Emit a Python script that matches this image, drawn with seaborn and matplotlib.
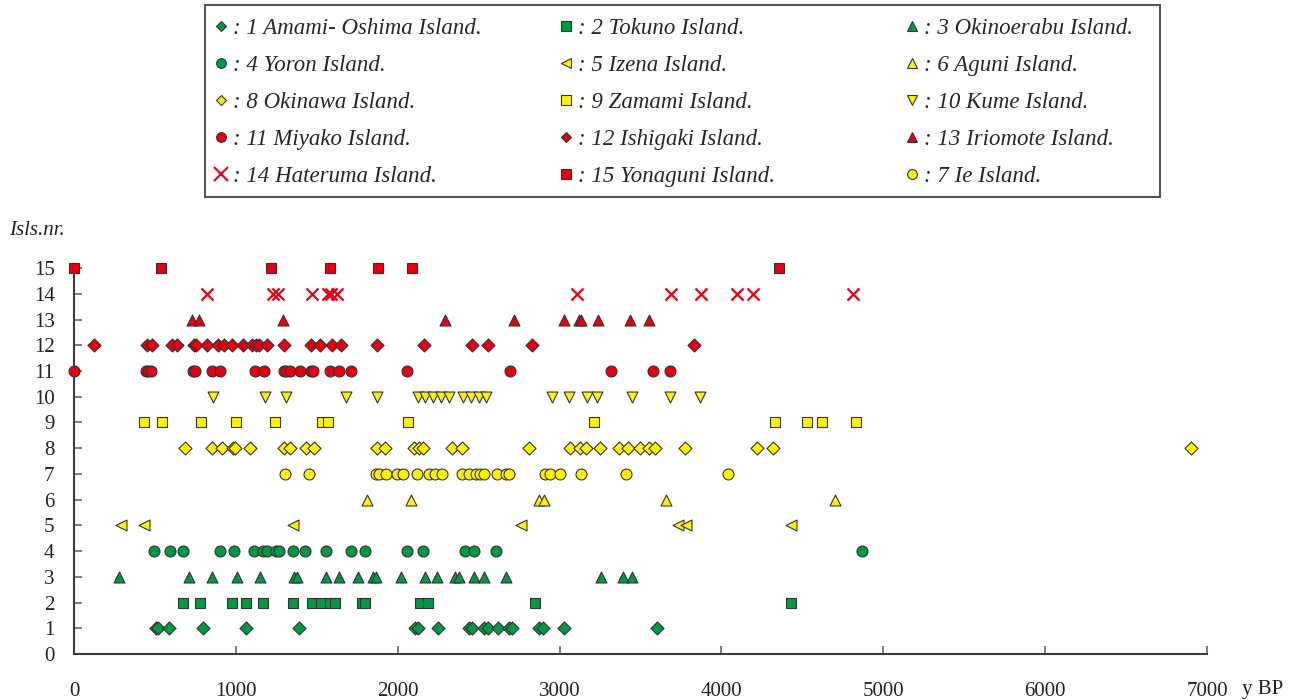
import matplotlib
matplotlib.use("Agg")
import matplotlib.pyplot as plt
import seaborn as sns
import pandas as pd
from matplotlib.lines import Line2D
from matplotlib.patches import Rectangle

# dated sites (y BP) per island
amami = [505, 520, 585, 795, 1060, 1390, 2105, 2125, 2250, 2440, 2460, 2535, 2555,
         2620, 2690, 2705, 2870, 2895, 3030, 3600]
tokuno = [675, 780, 975, 1065, 1165, 1350, 1470, 1525, 1580, 1610, 1780, 1795, 2140,
          2190, 2850, 4430]
okinoerabu = [280, 710, 850, 1010, 1150, 1360, 1380, 1555, 1640, 1755, 1850, 1865, 2020,
              2170, 2245, 2355, 2380, 2470, 2535, 2670, 3255, 3390, 3450]
yoron = [495, 595, 675, 900, 990, 1110, 1165, 1195, 1245, 1265, 1350, 1430, 1560, 1710,
         1795, 2055, 2155, 2415, 2470, 2605, 4870]
izena = [290, 430, 1350, 2760, 3730, 3780, 4430]
aguni = [1810, 2085, 2870, 2905, 3655, 4700]
ie = [1305, 1450, 1865, 1885, 1925, 1995, 2035, 2120, 2195, 2230, 2275, 2395, 2440, 2485,
      2510, 2535, 2615, 2670, 2685, 2910, 2940, 3000, 3135, 3410, 4040]
okinawa = [685, 855, 915, 980, 995, 1085, 1300, 1335, 1435, 1485, 1870, 1920, 2100, 2130,
           2155, 2335, 2400, 2810, 3065, 3125, 3165, 3250, 3370, 3420, 3500, 3550, 3590,
           3775, 4220, 4320, 6900]
zamami = [435, 545, 785, 1000, 1240, 1535, 1570, 2065, 3210, 4330, 4530, 4620, 4830]
kume = [860, 1180, 1310, 1680, 1875, 2125, 2170, 2220, 2270, 2315, 2405, 2455, 2505, 2545,
        2955, 3060, 3170, 3230, 3450, 3680, 3865]
miyako = [0, 445, 460, 475, 735, 750, 855, 900, 1120, 1175, 1295, 1310, 1335, 1395, 1465,
          1475, 1580, 1640, 1710, 2055, 2695, 3320, 3575, 3685]
ishigaki = [125, 450, 480, 605, 635, 740, 755, 820, 890, 925, 975, 1045, 1100, 1125, 1140,
            1190, 1300, 1465, 1520, 1595, 1650, 1875, 2160, 2460, 2555, 2830, 3830]
iriomote = [727, 773, 1294, 2290, 2720, 3030, 3120, 3130, 3240, 3435, 3555]
hateruma = [820, 1230, 1260, 1470, 1570, 1590, 1625, 3105, 3690, 3875, 4095, 4195, 4815]
yonaguni = [0, 540, 1220, 1580, 1880, 2090, 4355]

GREEN = "#009944"
YELLOW = "#FFF100"
RED = "#E60012"
EDGE = "#333333"

# (island nr, name, ages, marker, colour)
islands = [
    (1, "Amami- Oshima Island.", amami, "D", GREEN),
    (2, "Tokuno Island.", tokuno, "s", GREEN),
    (3, "Okinoerabu Island.", okinoerabu, "^", GREEN),
    (4, "Yoron Island.", yoron, "o", GREEN),
    (5, "Izena Island.", izena, "<", YELLOW),
    (6, "Aguni Island.", aguni, "^", YELLOW),
    (7, "Ie Island.", ie, "o", YELLOW),
    (8, "Okinawa Island.", okinawa, "D", YELLOW),
    (9, "Zamami Island.", zamami, "s", YELLOW),
    (10, "Kume Island.", kume, "v", YELLOW),
    (11, "Miyako Island.", miyako, "o", RED),
    (12, "Ishigaki Island.", ishigaki, "D", RED),
    (13, "Iriomote Island.", iriomote, "^", RED),
    (14, "Hateruma Island.", hateruma, "x", RED),
    (15, "Yonaguni Island.", yonaguni, "s", RED),
]

# legend layout as in the figure (rows of three)
legend_cols = [[1, 4, 8, 11, 14], [2, 5, 9, 12, 15], [3, 6, 10, 13, 7]]

sizes = {"D": 44, "s": 52, "^": 62, "v": 62, "<": 62, "o": 62, "x": 75}

sns.set_theme(style="ticks")
plt.rcParams["font.family"] = ["Liberation Serif", "DejaVu Serif"]

fig = plt.figure(figsize=(13.03, 7.0), dpi=100)
ax = fig.add_axes([0.0568, 0.0657, 0.8695, 0.5513])

for nr, name, ages, m, c in islands:
    df = pd.DataFrame({"age": ages, "nr": [nr] * len(ages)})
    if m == "x":
        sns.scatterplot(data=df, x="age", y="nr", marker=m, color=c, s=sizes[m],
                        linewidth=1.6, clip_on=False, legend=False, ax=ax, zorder=3)
    else:
        sns.scatterplot(data=df, x="age", y="nr", marker=m, color=c, s=sizes[m],
                        edgecolor=EDGE, linewidth=0.8, clip_on=False, legend=False,
                        ax=ax, zorder=3)

ax.set_xlim(0, 7000)
ax.set_ylim(0, 15)
ax.set_xticks(range(0, 7001, 1000))
ax.set_yticks(range(0, 16))
ax.set_xlabel("")
ax.set_ylabel("")
sns.despine(ax=ax)
for sp in ["left", "bottom"]:
    ax.spines[sp].set_color("#3a3a3a")
    ax.spines[sp].set_linewidth(1.5)
ax.tick_params(axis="both", direction="in", length=6, width=1.2, color="#666666",
               labelsize=15, labelcolor="#222222")
ax.tick_params(axis="x", pad=20)
ax.tick_params(axis="y", pad=14)

fig.text(0.007, 0.671, "Isls.nr.", fontsize=15, style="italic", ha="left", va="center",
         color="#222222")
fig.text(0.953, 0.0143, "y BP", fontsize=15, ha="left", va="center", color="#222222")

# legend: three single-column legends inside one frame
info = {nr: (name, m, c) for nr, name, _, m, c in islands}
col_x = [0.1627, 0.4275, 0.693]
for x0, col in zip(col_x, legend_cols):
    handles = []
    for nr in col:
        name, m, c = info[nr]
        if m == "x":
            h = Line2D([], [], marker=m, linestyle="none", markeredgecolor=c,
                       markersize=10, markeredgewidth=1.5, label=f": {nr} {name}")
        else:
            ms = 5.5 if m == "D" else 7
            h = Line2D([], [], marker=m, linestyle="none", markerfacecolor=c,
                       markeredgecolor=EDGE, markersize=ms, markeredgewidth=0.8,
                       label=f": {nr} {name}")
        handles.append(h)
    fig.legend(handles=handles, loc="upper left", bbox_to_anchor=(x0, 0.975),
               frameon=False, prop={"style": "italic", "size": 16.5},
               handlelength=0.8, handletextpad=0.1, borderpad=0, borderaxespad=0,
               labelspacing=0.7)

fig.patches.append(Rectangle((0.157, 0.719), 0.733, 0.274, transform=fig.transFigure,
                             fill=False, edgecolor="#555555", linewidth=1.5))

fig.savefig("out.png", dpi=100)
